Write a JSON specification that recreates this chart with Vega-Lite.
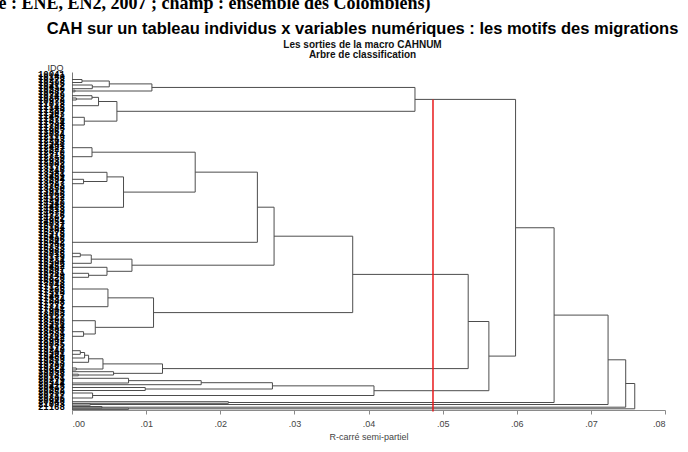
{
  "$schema": "https://vega.github.io/schema/vega-lite/v6.json",
  "autosize": {"type": "none"},
  "padding": {"left": 72, "top": 72, "right": 23, "bottom": 42},
  "width": 593,
  "height": 338,
  "background": "white",
  "title": {
    "text": "CAH sur un tableau individus x variables numériques : les motifs des migrations",
    "subtitle": ["Les sorties de la macro CAHNUM", "Arbre de classification"],
    "anchor": "middle",
    "frame": "group",
    "dx": -6,
    "offset": -65.5
  },
  "datasets": {
    "nodes": [
      {"id": "a", "h": 0.00135, "y1": 79.5, "h1": 0, "y2": 82.5, "h2": 0},
      {"id": "b", "h": 0.00274, "y1": 85, "h1": 0, "y2": 88.7, "h2": 0},
      {"id": "c", "h": 0.00503, "y1": 81, "h1": 0.00135, "y2": 86.85, "h2": 0.00274},
      {"id": "d", "h": 0.0004, "y1": 90.2, "h1": 0, "y2": 91.8, "h2": 0},
      {"id": "e", "h": 0.01078, "y1": 83.9, "h1": 0.00503, "y2": 91, "h2": 0.0004},
      {"id": "f", "h": 0.00058, "y1": 98, "h1": 0, "y2": 100, "h2": 0},
      {"id": "g", "h": 0.0027, "y1": 95.7, "h1": 0, "y2": 99, "h2": 0.00058},
      {"id": "h", "h": 0.00358, "y1": 97.35, "h1": 0.0027, "y2": 105.7, "h2": 0},
      {"id": "i", "h": 0.00166, "y1": 117.3, "h1": 0, "y2": 125, "h2": 0},
      {"id": "j", "h": 0.00606, "y1": 101.5, "h1": 0.00358, "y2": 121.15, "h2": 0.00166},
      {"id": "k", "h": 0.04627, "y1": 87.45, "h1": 0.01078, "y2": 111.3, "h2": 0.00606},
      {"id": "l", "h": 0.0027, "y1": 147.7, "h1": 0, "y2": 156.7, "h2": 0},
      {"id": "m", "h": 0.00156, "y1": 179.3, "h1": 0, "y2": 183.7, "h2": 0},
      {"id": "n", "h": 0.00472, "y1": 172.3, "h1": 0, "y2": 181.5, "h2": 0.00156},
      {"id": "o", "h": 0.00695, "y1": 176.9, "h1": 0.00472, "y2": 207.3, "h2": 0},
      {"id": "p", "h": 0.01662, "y1": 152.2, "h1": 0.0027, "y2": 192.1, "h2": 0.00695},
      {"id": "q", "h": 0.02501, "y1": 172.15, "h1": 0.01662, "y2": 242.3, "h2": 0},
      {"id": "r", "h": 0.00112, "y1": 253.3, "h1": 0, "y2": 256.7, "h2": 0},
      {"id": "s", "h": 0.0026, "y1": 255, "h1": 0.00112, "y2": 263.3, "h2": 0},
      {"id": "t", "h": 0.00224, "y1": 273.3, "h1": 0, "y2": 277.3, "h2": 0},
      {"id": "u", "h": 0.00472, "y1": 267.3, "h1": 0, "y2": 275.3, "h2": 0.00224},
      {"id": "v", "h": 0.00809, "y1": 259.15, "h1": 0.0026, "y2": 271.3, "h2": 0.00472},
      {"id": "w", "h": 0.02726, "y1": 207.2, "h1": 0.02501, "y2": 265.2, "h2": 0.00809},
      {"id": "x", "h": 0.00485, "y1": 289, "h1": 0, "y2": 306.7, "h2": 0},
      {"id": "y", "h": 0.00156, "y1": 331.7, "h1": 0, "y2": 336.3, "h2": 0},
      {"id": "z", "h": 0.00314, "y1": 320.7, "h1": 0, "y2": 334, "h2": 0.00156},
      {"id": "aa", "h": 0.011, "y1": 297.85, "h1": 0.00485, "y2": 327.35, "h2": 0.00314},
      {"id": "ab", "h": 0.03787, "y1": 236.2, "h1": 0.02726, "y2": 312.6, "h2": 0.011},
      {"id": "ac", "h": 0.00112, "y1": 350.7, "h1": 0, "y2": 354.3, "h2": 0},
      {"id": "ad", "h": 0.0017, "y1": 352.5, "h1": 0.00112, "y2": 358, "h2": 0},
      {"id": "ae", "h": 0.00224, "y1": 355.25, "h1": 0.0017, "y2": 362.3, "h2": 0},
      {"id": "af", "h": 0.00058, "y1": 368, "h1": 0, "y2": 370, "h2": 0},
      {"id": "ag", "h": 0.00418, "y1": 358.8, "h1": 0.00224, "y2": 369, "h2": 0.00058},
      {"id": "ah", "h": 0.00085, "y1": 374.2, "h1": 0, "y2": 375.8, "h2": 0},
      {"id": "ai", "h": 0.00561, "y1": 371.7, "h1": 0, "y2": 375, "h2": 0.00085},
      {"id": "aj", "h": 0.01221, "y1": 363.9, "h1": 0.00418, "y2": 373.35, "h2": 0.00561},
      {"id": "ak", "h": 0.05345, "y1": 274.4, "h1": 0.03787, "y2": 368.6, "h2": 0.01221},
      {"id": "al", "h": 0.00763, "y1": 378.3, "h1": 0, "y2": 383, "h2": 0},
      {"id": "am", "h": 0.01743, "y1": 380.65, "h1": 0.00763, "y2": 384.7, "h2": 0},
      {"id": "an", "h": 0.00988, "y1": 387.5, "h1": 0, "y2": 390.5, "h2": 0},
      {"id": "ao", "h": 0.02704, "y1": 382.7, "h1": 0.01743, "y2": 389, "h2": 0.00988},
      {"id": "ap", "h": 0.00278, "y1": 393, "h1": 0, "y2": 398, "h2": 0},
      {"id": "aq", "h": 0.04074, "y1": 385.85, "h1": 0.02704, "y2": 395.5, "h2": 0.00278},
      {"id": "ar", "h": 0.05624, "y1": 321.5, "h1": 0.05345, "y2": 390.7, "h2": 0.04074},
      {"id": "as", "h": 0.05984, "y1": 99.4, "h1": 0.04627, "y2": 356.1, "h2": 0.05624},
      {"id": "at", "h": 0.0211, "y1": 401.7, "h1": 0, "y2": 403.3, "h2": 0},
      {"id": "au", "h": 0.06504, "y1": 227.75, "h1": 0.05984, "y2": 402.5, "h2": 0.0211},
      {"id": "av", "h": 0.00247, "y1": 403.8, "h1": 0, "y2": 405.2, "h2": 0},
      {"id": "aw", "h": 0.07232, "y1": 315.1, "h1": 0.06504, "y2": 404.5, "h2": 0.00247},
      {"id": "ax", "h": 0.00404, "y1": 406.5, "h1": 0, "y2": 407.9, "h2": 0},
      {"id": "ay", "h": 0.0747, "y1": 359.8, "h1": 0.07232, "y2": 407.2, "h2": 0.00404},
      {"id": "az", "h": 0.00763, "y1": 408.2, "h1": 0, "y2": 409.4, "h2": 0},
      {"id": "ba", "h": 0.07592, "y1": 383.5, "h1": 0.0747, "y2": 408.8, "h2": 0.00763}
    ],
    "cut": [{"r2": 0.0487, "top": 99.5, "bottom": 411.5}],
    "header": [{"t": "e : ENE, EN2, 2007 ; champ : ensemble des Colombiens)"}],
    "leaves": [
      {"idq": "10041", "pos": 74}, {"idq": "10158", "pos": 77}, {"idq": "10273", "pos": 80}, {"idq": "10395", "pos": 83},
      {"idq": "10412", "pos": 86}, {"idq": "10536", "pos": 89}, {"idq": "10687", "pos": 92}, {"idq": "10749", "pos": 95},
      {"idq": "10862", "pos": 98}, {"idq": "10978", "pos": 101}, {"idq": "11023", "pos": 104}, {"idq": "11145", "pos": 107},
      {"idq": "11289", "pos": 110}, {"idq": "11307", "pos": 113}, {"idq": "11452", "pos": 116}, {"idq": "11576", "pos": 119},
      {"idq": "11634", "pos": 122}, {"idq": "11798", "pos": 125}, {"idq": "11805", "pos": 128}, {"idq": "11967", "pos": 131},
      {"idq": "12084", "pos": 134}, {"idq": "12119", "pos": 137}, {"idq": "12263", "pos": 140}, {"idq": "12348", "pos": 143},
      {"idq": "12491", "pos": 146}, {"idq": "12527", "pos": 149}, {"idq": "12670", "pos": 152}, {"idq": "12715", "pos": 155},
      {"idq": "12859", "pos": 158}, {"idq": "12936", "pos": 161}, {"idq": "13002", "pos": 164}, {"idq": "13178", "pos": 167},
      {"idq": "13246", "pos": 170}, {"idq": "13381", "pos": 173}, {"idq": "13459", "pos": 176}, {"idq": "13594", "pos": 179},
      {"idq": "13627", "pos": 182}, {"idq": "13783", "pos": 185}, {"idq": "13850", "pos": 188}, {"idq": "13915", "pos": 191},
      {"idq": "14066", "pos": 194}, {"idq": "14132", "pos": 197}, {"idq": "14297", "pos": 200}, {"idq": "14340", "pos": 203},
      {"idq": "14488", "pos": 206}, {"idq": "14513", "pos": 209}, {"idq": "14679", "pos": 212}, {"idq": "14726", "pos": 215},
      {"idq": "14892", "pos": 218}, {"idq": "14951", "pos": 221}, {"idq": "15037", "pos": 224}, {"idq": "15164", "pos": 227},
      {"idq": "15208", "pos": 230}, {"idq": "15375", "pos": 233}, {"idq": "15419", "pos": 236}, {"idq": "15586", "pos": 239},
      {"idq": "15642", "pos": 242}, {"idq": "15790", "pos": 245}, {"idq": "15833", "pos": 248}, {"idq": "15968", "pos": 251},
      {"idq": "16015", "pos": 254}, {"idq": "16179", "pos": 257}, {"idq": "16234", "pos": 260}, {"idq": "16396", "pos": 263},
      {"idq": "16452", "pos": 266}, {"idq": "16507", "pos": 269}, {"idq": "16681", "pos": 272}, {"idq": "16749", "pos": 275},
      {"idq": "16820", "pos": 278}, {"idq": "16993", "pos": 281}, {"idq": "17048", "pos": 284}, {"idq": "17126", "pos": 287},
      {"idq": "17285", "pos": 290}, {"idq": "17319", "pos": 293}, {"idq": "17467", "pos": 296}, {"idq": "17534", "pos": 299},
      {"idq": "17608", "pos": 302}, {"idq": "17772", "pos": 305}, {"idq": "17841", "pos": 308}, {"idq": "17905", "pos": 311},
      {"idq": "18063", "pos": 314}, {"idq": "18127", "pos": 317}, {"idq": "18290", "pos": 320}, {"idq": "18356", "pos": 323},
      {"idq": "18414", "pos": 326}, {"idq": "18588", "pos": 329}, {"idq": "18631", "pos": 332}, {"idq": "18769", "pos": 335},
      {"idq": "18842", "pos": 338}, {"idq": "18997", "pos": 341}, {"idq": "19035", "pos": 344}, {"idq": "19172", "pos": 347},
      {"idq": "19248", "pos": 350}, {"idq": "19301", "pos": 353}, {"idq": "19486", "pos": 356}, {"idq": "19559", "pos": 359},
      {"idq": "19613", "pos": 362}, {"idq": "19780", "pos": 365}, {"idq": "19824", "pos": 368}, {"idq": "19956", "pos": 371},
      {"idq": "20038", "pos": 374}, {"idq": "20161", "pos": 377}, {"idq": "20279", "pos": 380}, {"idq": "20344", "pos": 383},
      {"idq": "20415", "pos": 386}, {"idq": "20592", "pos": 389}, {"idq": "20653", "pos": 392}, {"idq": "20717", "pos": 395},
      {"idq": "20886", "pos": 398}, {"idq": "20940", "pos": 401}, {"idq": "21093", "pos": 404}, {"idq": "21168", "pos": 407}
    ]
  },
  "layer": [
    {
      "data": {"name": "nodes"},
      "mark": {"type": "rule", "color": "#4d4d4d", "strokeWidth": 1},
      "encoding": {
        "x": {"field": "h", "type": "quantitative", "scale": {"domain": [0, 0.08], "nice": false, "zero": false},
          "axis": {"title": "R-carré semi-partiel", "values": [0, 0.01, 0.02, 0.03, 0.04, 0.05, 0.06, 0.07, 0.08], "labelExpr": "substring(format(datum.value, '.2f'), 1)", "grid": false, "domainColor": "#8a8a8a", "tickColor": "#8a8a8a", "tickSize": 4, "labelFont": "Liberation Sans", "labelFontSize": 9, "labelColor": "#444", "labelPadding": 5, "titleFont": "Liberation Sans", "titleFontSize": 9, "titleFontWeight": "normal", "titleColor": "#444", "titlePadding": 4}},
        "y": {"field": "y1", "type": "quantitative", "scale": {"domain": [72, 410], "reverse": true, "nice": false, "zero": false},
          "axis": {"title": "IDQ", "labels": false, "ticks": false, "grid": false, "domainColor": "#777", "titleAngle": 0, "titleX": -17, "titleY": -5, "titleAlign": "center", "titleBaseline": "middle", "titleFont": "Liberation Sans", "titleFontSize": 9, "titleFontWeight": "normal", "titleColor": "#333"}},
        "y2": {"field": "y2"}
      }
    },
    {
      "data": {"name": "nodes"},
      "mark": {"type": "rule", "color": "#4d4d4d", "strokeWidth": 1},
      "encoding": {
        "x": {"field": "h1", "type": "quantitative"},
        "x2": {"field": "h"},
        "y": {"field": "y1", "type": "quantitative"}
      }
    },
    {
      "data": {"name": "nodes"},
      "mark": {"type": "rule", "color": "#4d4d4d", "strokeWidth": 1},
      "encoding": {
        "x": {"field": "h2", "type": "quantitative"},
        "x2": {"field": "h"},
        "y": {"field": "y2", "type": "quantitative"}
      }
    },
    {
      "data": {"name": "cut"},
      "mark": {"type": "rule", "color": "#e8191c", "strokeWidth": 1.5},
      "encoding": {
        "x": {"field": "r2", "type": "quantitative"},
        "y": {"field": "top", "type": "quantitative"},
        "y2": {"field": "bottom"}
      }
    },
    {
      "data": {"name": "leaves"},
      "mark": {"type": "text", "align": "left", "baseline": "middle", "font": "Liberation Mono", "fontSize": 9, "fontWeight": "bold", "color": "black"},
      "encoding": {
        "x": {"datum": -0.0046, "type": "quantitative"},
        "y": {"field": "pos", "type": "quantitative"},
        "text": {"field": "idq"}
      }
    },
    {
      "data": {"name": "header"},
      "mark": {"type": "text", "align": "left", "baseline": "alphabetic", "font": "Liberation Serif", "fontSize": 18, "fontWeight": "bold", "color": "black"},
      "encoding": {
        "x": {"datum": -0.0099, "type": "quantitative"},
        "y": {"datum": 8.5, "type": "quantitative"},
        "text": {"field": "t"}
      }
    }
  ],
  "config": {
    "view": {"stroke": null},
    "title": {"font": "Liberation Sans", "fontSize": 16.5, "fontWeight": "bold", "color": "black", "subtitleFont": "Liberation Sans", "subtitleFontSize": 10, "subtitleFontWeight": "bold", "subtitleColor": "#111", "subtitlePadding": 0, "subtitleLineHeight": 10}
  }
}
